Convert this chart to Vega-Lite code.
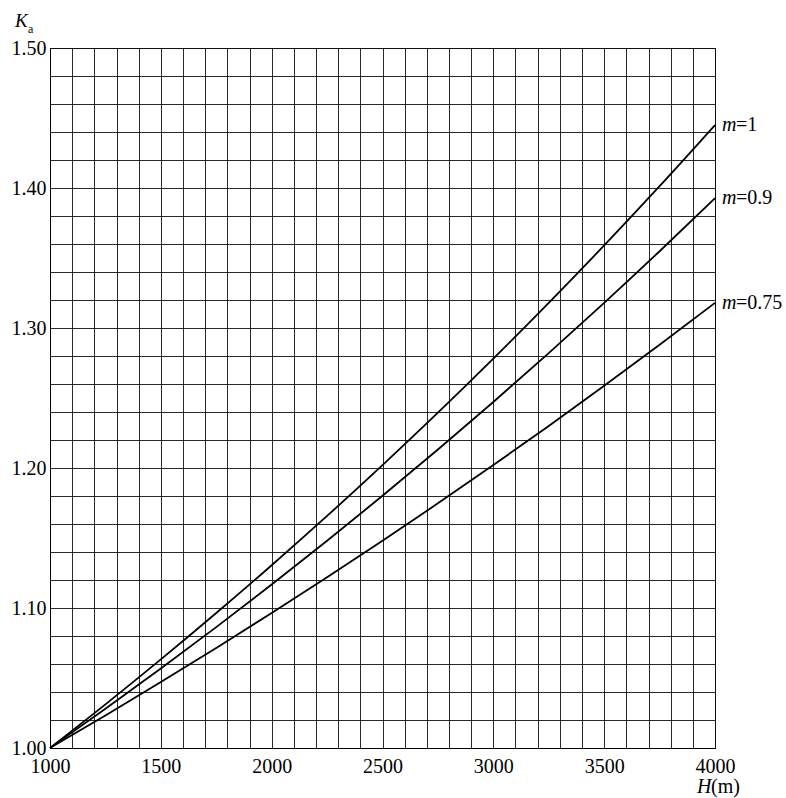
{
  "$schema": "https://vega.github.io/schema/vega-lite/v6.json",
  "width": 665,
  "height": 700,
  "autosize": "none",
  "padding": {"left": 50, "top": 48, "right": 71, "bottom": 50},
  "background": "white",
  "config": {
    "view": {"stroke": "#000", "strokeWidth": 1},
    "font": "Liberation Serif"
  },
  "datasets": {
    "curves": [
      {"H": 1000, "Ka": 1.0, "m": "1"},
      {"H": 1250, "Ka": 1.03115, "m": "1"},
      {"H": 1500, "Ka": 1.063271, "m": "1"},
      {"H": 1750, "Ka": 1.096391, "m": "1"},
      {"H": 2000, "Ka": 1.130543, "m": "1"},
      {"H": 2250, "Ka": 1.16576, "m": "1"},
      {"H": 2500, "Ka": 1.202074, "m": "1"},
      {"H": 2750, "Ka": 1.239518, "m": "1"},
      {"H": 3000, "Ka": 1.278129, "m": "1"},
      {"H": 3250, "Ka": 1.317943, "m": "1"},
      {"H": 3500, "Ka": 1.358997, "m": "1"},
      {"H": 3750, "Ka": 1.40133, "m": "1"},
      {"H": 4000, "Ka": 1.444981, "m": "1"},
      {"H": 1000, "Ka": 1.0, "m": "0.9"},
      {"H": 1250, "Ka": 1.027992, "m": "0.9"},
      {"H": 1500, "Ka": 1.056767, "m": "0.9"},
      {"H": 1750, "Ka": 1.086348, "m": "0.9"},
      {"H": 2000, "Ka": 1.116757, "m": "0.9"},
      {"H": 2250, "Ka": 1.148018, "m": "0.9"},
      {"H": 2500, "Ka": 1.180153, "m": "0.9"},
      {"H": 2750, "Ka": 1.213188, "m": "0.9"},
      {"H": 3000, "Ka": 1.247148, "m": "0.9"},
      {"H": 3250, "Ka": 1.282058, "m": "0.9"},
      {"H": 3500, "Ka": 1.317945, "m": "0.9"},
      {"H": 3750, "Ka": 1.354836, "m": "0.9"},
      {"H": 4000, "Ka": 1.39276, "m": "0.9"},
      {"H": 1000, "Ka": 1.0, "m": "0.75"},
      {"H": 1250, "Ka": 1.023273, "m": "0.75"},
      {"H": 1500, "Ka": 1.047088, "m": "0.75"},
      {"H": 1750, "Ka": 1.071457, "m": "0.75"},
      {"H": 2000, "Ka": 1.096393, "m": "0.75"},
      {"H": 2250, "Ka": 1.12191, "m": "0.75"},
      {"H": 2500, "Ka": 1.148021, "m": "0.75"},
      {"H": 2750, "Ka": 1.17474, "m": "0.75"},
      {"H": 3000, "Ka": 1.202081, "m": "0.75"},
      {"H": 3250, "Ka": 1.230058, "m": "0.75"},
      {"H": 3500, "Ka": 1.258686, "m": "0.75"},
      {"H": 3750, "Ka": 1.28798, "m": "0.75"},
      {"H": 4000, "Ka": 1.317956, "m": "0.75"}
    ],
    "ends": [
      {"H": 4000, "Ka": 1.444981, "lab": "=1"},
      {"H": 4000, "Ka": 1.39276, "lab": "=0.9"},
      {"H": 4000, "Ka": 1.317956, "lab": "=0.75"}
    ],
    "titles": [
      {"H": 1000, "Ka": 1.5, "t": "K"},
      {"H": 1000, "Ka": 1.5, "t": "a"},
      {"H": 4000, "Ka": 1.0, "t": "H"},
      {"H": 4000, "Ka": 1.0, "t": "(m)"}
    ]
  },
  "encoding": {
    "x": {
      "field": "H", "type": "quantitative",
      "scale": {"domain": [1000, 4000], "nice": false, "zero": false},
      "axis": {
        "values": [1000,1100,1200,1300,1400,1500,1600,1700,1800,1900,2000,2100,2200,2300,2400,2500,2600,2700,2800,2900,3000,3100,3200,3300,3400,3500,3600,3700,3800,3900,4000],
        "labelExpr": "datum.value % 500 === 0 ? datum.label : ''",
        "format": "d",
        "title": null,
        "grid": true, "gridColor": "#111", "gridWidth": 0.9, "gridOpacity": 1,
        "ticks": false, "domainColor": "#000", "domainWidth": 1,
        "labelFont": "Liberation Serif", "labelFontSize": 20, "labelColor": "#000",
        "labelPadding": 8, "labelFlush": false, "labelOverlap": false
      }
    },
    "y": {
      "field": "Ka", "type": "quantitative",
      "scale": {"domain": [1.0, 1.5], "nice": false, "zero": false},
      "axis": {
        "values": [1.0,1.02,1.04,1.06,1.08,1.1,1.12,1.14,1.16,1.18,1.2,1.22,1.24,1.26,1.28,1.3,1.32,1.34,1.36,1.38,1.4,1.42,1.44,1.46,1.48,1.5],
        "labelExpr": "round(datum.value * 100) % 10 === 0 ? format(datum.value, '.2f') : ''",
        "title": null,
        "grid": true, "gridColor": "#111", "gridWidth": 0.9, "gridOpacity": 1,
        "ticks": false, "domainColor": "#000", "domainWidth": 1,
        "labelFont": "Liberation Serif", "labelFontSize": 20, "labelColor": "#000",
        "labelPadding": 4, "labelFlush": false, "labelOverlap": false
      }
    }
  },
  "layer": [
    {
      "data": {"name": "curves"},
      "mark": {"type": "line", "color": "#000", "strokeWidth": 1.8, "interpolate": "monotone"},
      "encoding": {"detail": {"field": "m"}}
    },
    {
      "data": {"name": "ends"},
      "mark": {"type": "text", "text": "m", "font": "Liberation Serif", "fontStyle": "italic", "fontSize": 20, "align": "left", "baseline": "alphabetic", "dx": 7, "dy": 6, "color": "#000"}
    },
    {
      "data": {"name": "ends"},
      "mark": {"type": "text", "font": "Liberation Serif", "fontSize": 20, "align": "left", "baseline": "alphabetic", "dx": 21, "dy": 6, "color": "#000"},
      "encoding": {"text": {"field": "lab"}}
    },
    {
      "data": {"name": "titles"},
      "transform": [{"filter": "datum.t === 'K'"}],
      "mark": {"type": "text", "font": "Liberation Serif", "fontStyle": "italic", "fontSize": 19, "align": "left", "baseline": "alphabetic", "dx": -35, "dy": -21, "color": "#000"},
      "encoding": {"text": {"field": "t"}}
    },
    {
      "data": {"name": "titles"},
      "transform": [{"filter": "datum.t === 'a'"}],
      "mark": {"type": "text", "font": "Liberation Serif", "fontSize": 12, "align": "left", "baseline": "alphabetic", "dx": -22, "dy": -15, "color": "#000"},
      "encoding": {"text": {"field": "t"}}
    },
    {
      "data": {"name": "titles"},
      "transform": [{"filter": "datum.t === 'H'"}],
      "mark": {"type": "text", "font": "Liberation Serif", "fontStyle": "italic", "fontSize": 20, "align": "left", "baseline": "alphabetic", "dx": -18, "dy": 45, "color": "#000"},
      "encoding": {"text": {"field": "t"}}
    },
    {
      "data": {"name": "titles"},
      "transform": [{"filter": "datum.t === '(m)'"}],
      "mark": {"type": "text", "font": "Liberation Serif", "fontSize": 20, "align": "left", "baseline": "alphabetic", "dx": -4, "dy": 45, "color": "#000"},
      "encoding": {"text": {"field": "t"}}
    }
  ]
}
